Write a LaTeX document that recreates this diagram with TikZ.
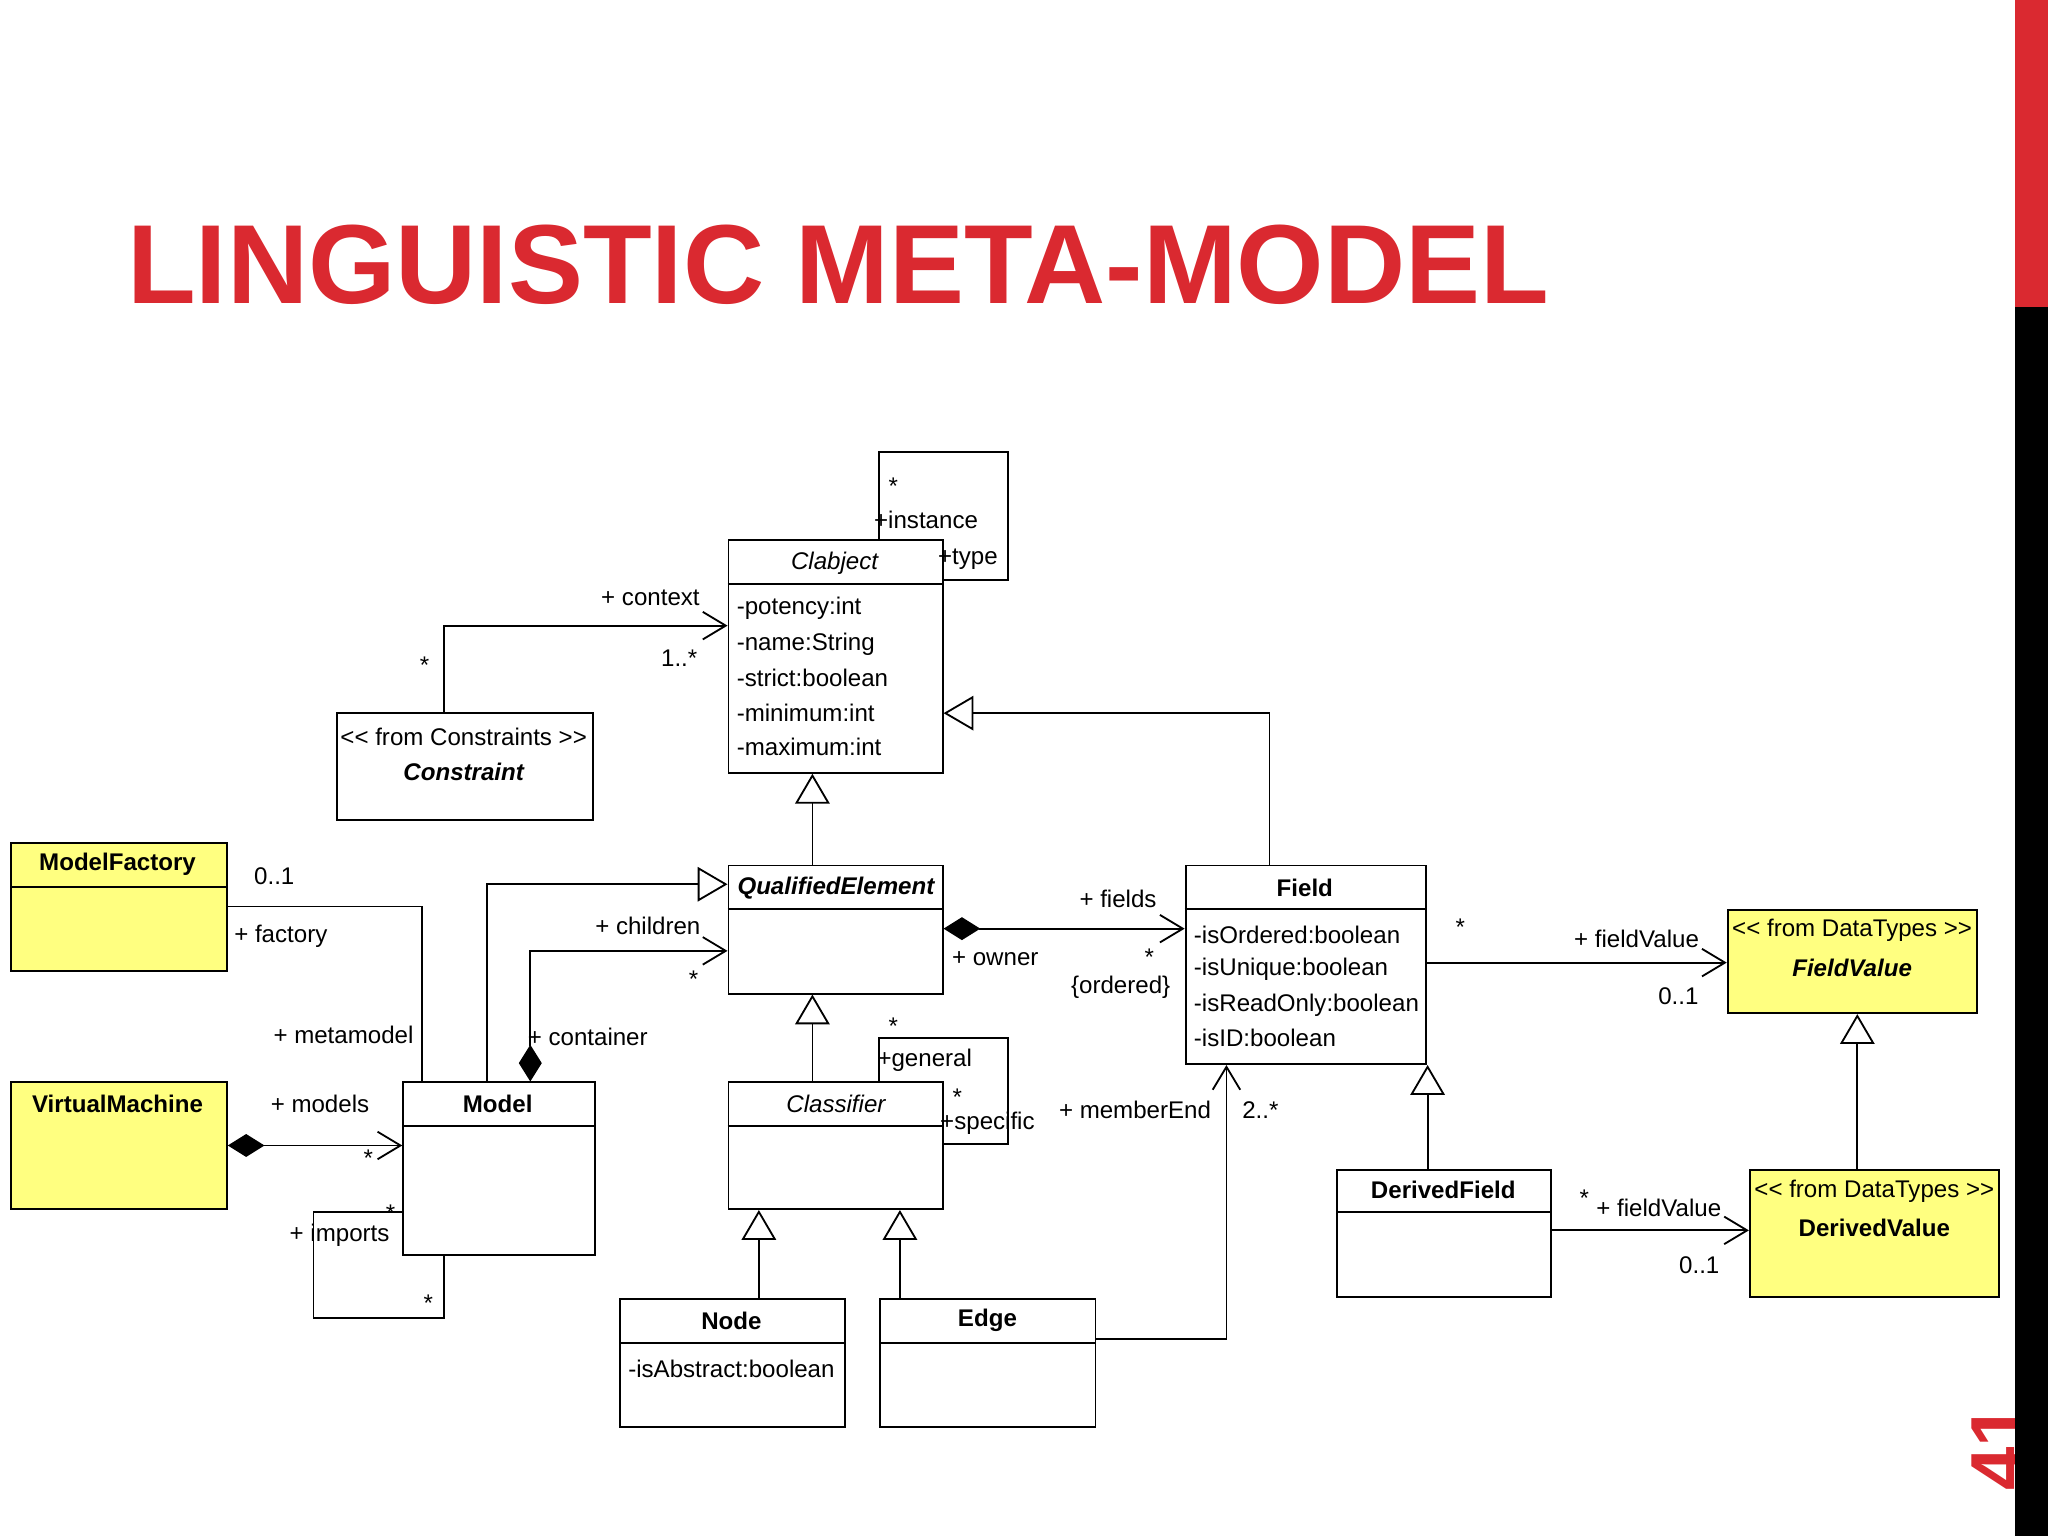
\documentclass[tikz,border=0pt]{standalone}
\usepackage{fontspec}
\setmainfont{Liberation Sans}
\usetikzlibrary{arrows.meta,calc}
\definecolor{ttl}{RGB}{218,41,48}
\definecolor{yel}{RGB}{255,255,128}
\tikzset{
  umlbox/.style={draw,thick,inner sep=0pt},
  lbl/.style={inner sep=1pt,font=\fontsize{10.5}{12}\selectfont},
  bl/.style={lbl,font=\fontsize{10.5}{12}\bfseries\selectfont},
  il/.style={lbl,font=\fontsize{10.5}{12}\itshape\selectfont},
  bil/.style={lbl,font=\fontsize{10.5}{12}\bfseries\itshape\selectfont},
  conn/.style={thick},
  oarr/.style={-{Straight Barb[length=10pt,width=12pt]}},
  gen/.style={-{Triangle[open,length=13pt,width=15pt,fill=white]}},
  comp/.style={{Diamond[length=16pt,width=10pt]}-{Straight Barb[length=10pt,width=12pt]}},
}
\newcommand{\umlbx}[6]{%
  \node[umlbox,fill=#6,minimum width={(#4-#2)*0.02cm},minimum height={(#5-#3)*0.02cm},anchor=north west] (#1) at (#2,#3) {};}
\newcommand{\hdr}[2]{\draw[thick] (#1.west |- 0,#2) -- (#1.east |- 0,#2);}
\newcommand{\stl}{{<}{<}}
\newcommand{\stg}{{>}{>}}
\begin{document}
\begin{tikzpicture}[x=0.02cm,y=-0.02cm]
\useasboundingbox (0,0) rectangle (1568,1176);
\fill[white] (0,0) rectangle (1568,1176);
% title
\node[anchor=base west,inner sep=0,text=ttl,font=\fontsize{49}{52}\bfseries\selectfont] (title) at (97,232) {LINGUISTIC META-MODEL};
\node[rotate=90,text=ttl,font=\fontsize{34}{34}\bfseries\selectfont,inner sep=0] (pg) at (1530,1108) {41};
\fill[ttl] (1543,0) rectangle (1568,235);
\fill[black] (1543,235) rectangle (1568,1176);

% boxes
\umlbx{Clab}{557}{413}{721}{591}{white} \hdr{Clab}{447}
\node[il] (clabt) at (639,431) {Clabject};
\foreach \t/\y in {-potency:int/466,-name:String/493,-strict:boolean/519,-minimum:int/546,-maximum:int/572}
  \node[lbl,anchor=west] at (562,\y) {\t};
\umlbx{Cons}{257}{545}{453}{627}{white}
\node[lbl] at (355,564) {\stl{} from Constraints \stg};
\node[bil] at (355,591) {Constraint};
\umlbx{QE}{557}{662}{721}{760}{white} \hdr{QE}{696}
\node[bil] at (640,680) {QualifiedElement};
\umlbx{Field}{907}{662}{1091}{814}{white} \hdr{Field}{696}
\node[bl] at (999,680) {Field};
\foreach \t/\y in {-isOrdered:boolean/716,-isUnique:boolean/742,-isReadOnly:boolean/770,-isID:boolean/795}
  \node[lbl,anchor=west] at (912,\y) {\t};
\umlbx{FV}{1322}{696}{1513}{775}{yel}
\node[lbl] at (1418,712) {\stl{} from DataTypes \stg};
\node[bil] at (1418,741) {FieldValue};
\umlbx{DV}{1339}{895}{1530}{992}{yel}
\node[lbl] at (1435,912) {\stl{} from DataTypes \stg};
\node[bl] at (1435,940) {DerivedValue};
\umlbx{DF}{1023}{895}{1187}{992}{white} \hdr{DF}{928}
\node[bl] at (1105,911) {DerivedField};
\umlbx{Cls}{557}{828}{721}{925}{white} \hdr{Cls}{862}
\node[il] at (640,845) {Classifier};
\umlbx{Nd}{474}{994}{646}{1092}{white} \hdr{Nd}{1028}
\node[bl] at (560,1011) {Node};
\node[lbl] at (560,1048) {-isAbstract:boolean};
\umlbx{Ed}{673}{994}{838}{1092}{white} \hdr{Ed}{1028}
\node[bl] at (756,1011) {Edge};
\umlbx{Mdl}{308}{828}{455}{960}{white} \hdr{Mdl}{862}
\node[bl] at (381,845) {Model};
\umlbx{MF}{8}{645}{173}{743}{yel} \hdr{MF}{679}
\node[bl] at (90,662) {ModelFactory};
\umlbx{VM}{8}{828}{173}{925}{yel}
\node[bl] at (90,845) {VirtualMachine};

% Clabject self loop
\coordinate (cl1) at (673,346); \coordinate (cl2) at (772,444);
\draw[conn] (Clab.north -| cl1) -- (cl1) -- (cl1 -| cl2) -- (cl2) -- (Clab.east |- cl2);
\node[lbl] at (684,372) {*};
\node[lbl] at (709,398) {+instance};
\node[lbl] at (741,428) {+type};
% context
\coordinate (cx) at (340,479);
\draw[conn,oarr] (Cons.north -| cx) -- (cx) -- (Clab.west |- cx);
\node[lbl] at (498,458) {+ context};
\node[lbl] at (520,504) {1..*};
\node[lbl] at (325,509) {*};
% generalizations
\draw[conn,gen] (622,0 |- QE.north) -- (622,0 |- Clab.south);
\coordinate (fg) at (972,546);
\draw[conn,gen] (Field.north -| fg) -- (fg) -- (Clab.east |- fg);
\draw[conn,gen] (622,0 |- Cls.north) -- (622,0 |- QE.south);
\draw[conn,gen] (581,0 |- Nd.north) -- (581,0 |- Cls.south);
\draw[conn,gen] (689,0 |- Ed.north) -- (689,0 |- Cls.south);
\draw[conn,gen] (1093,0 |- DF.north) -- (1093,0 |- Field.south);
\draw[conn,gen] (1422,0 |- DV.north) -- (1422,0 |- FV.south);
\coordinate (mg) at (373,677);
\draw[conn,gen] (Mdl.north -| mg) -- (mg) -- (QE.west |- mg);
% fields
\draw[conn,comp] (QE.east |- 0,711) -- (Field.west |- 0,711);
\node[lbl] at (856,688) {+ fields};
\node[lbl] at (762,734) {+ owner};
\node[lbl] at (880,733) {*};
\node[lbl] at (858,756) {\{ordered\}};
% field value
\draw[conn,oarr] (Field.east |- 0,737) -- (FV.west |- 0,737);
\node[lbl] at (1118,710) {*};
\node[lbl] at (1253,719) {+ fieldValue};
\node[lbl] at (1285,763) {0..1};
\draw[conn,oarr] (DF.east |- 0,942) -- (DV.west |- 0,942);
\node[lbl] at (1213,917) {*};
\node[lbl] at (1270,925) {+ fieldValue};
\node[lbl] at (1301,969) {0..1};
% classifier self loop
\coordinate (cs1) at (673,795); \coordinate (cs2) at (772,876);
\draw[conn] (Cls.north -| cs1) -- (cs1) -- (cs1 -| cs2) -- (cs2) -- (Cls.east |- cs2);
\node[lbl] at (684,786) {*};
\node[lbl] at (708,812) {+general};
\node[lbl] at (733,840) {*};
\node[lbl] at (756,860) {+specific};
% memberEnd
\coordinate (me) at (939,1025);
\draw[conn,oarr] (Ed.east |- me) -- (me) -- (Field.south -| me);
\node[lbl] at (869,850) {+ memberEnd};
\node[lbl] at (965,850) {2..*};
% children
\coordinate (ch) at (406,728);
\draw[conn,comp] (Mdl.north -| ch) -- (ch) -- (QE.west |- ch);
\node[lbl] at (496,709) {+ children};
\node[lbl] at (531,750) {*};
\node[lbl] at (450,794) {+ container};
% factory
\coordinate (fa) at (323,694);
\draw[conn] (MF.east |- fa) -- (fa) -- (Mdl.north -| fa);
\node[lbl] at (210,671) {0..1};
\node[lbl] at (215,717) {+ factory};
\node[lbl] at (263,792) {+ metamodel};
% models
\draw[conn,comp] (VM.east |- 0,877) -- (Mdl.west |- 0,877);
\node[lbl] at (245,845) {+ models};
\node[lbl] at (282,887) {*};
% imports
\coordinate (im1) at (240,928); \coordinate (im2) at (340,1009);
\draw[conn] (Mdl.west |- im1) -- (im1) -- (im1 |- im2) -- (im2) -- (Mdl.south -| im2);
\node[lbl] at (260,946) {+ imports};
\node[lbl,inner sep=0pt] at (299,929) {*};
\node[lbl] at (328,998) {*};
\end{tikzpicture}
\end{document}
